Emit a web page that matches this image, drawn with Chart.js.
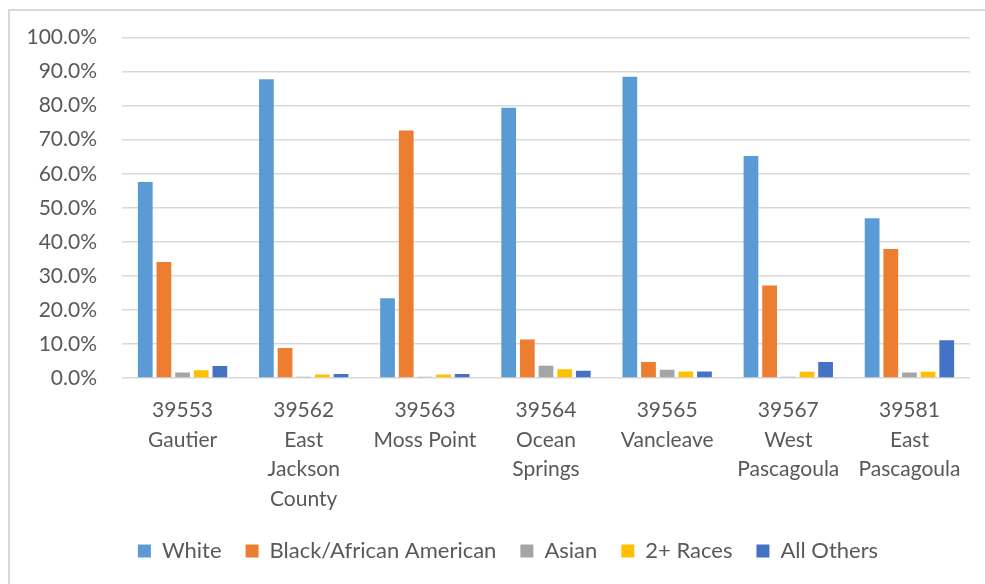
<!DOCTYPE html>
<html>
<head>
<meta charset="utf-8">
<script src="https://cdn.jsdelivr.net/npm/chart.js@4.4.0/dist/chart.umd.min.js"></script>
<style>
  html, body { margin: 0; padding: 0; background: #fff; overflow: hidden; }
  #wrap {
    position: absolute; left: 8px; top: 9px; width: 1010px; height: 584px;
    border-left: 2px solid #D9D9D9; border-top: 2px solid #D9D9D9;
  }
  #chart { position: absolute; left: 0; top: 0; }
</style>
</head>
<body>
<div id="wrap"></div>
<canvas id="chart" width="1020" height="584"></canvas>
<script>
const zipAreas = [
  ['39553', 'Gautier'],
  ['39562', 'East', 'Jackson', 'County'],
  ['39563', 'Moss Point'],
  ['39564', 'Ocean', 'Springs'],
  ['39565', 'Vancleave'],
  ['39567', 'West', 'Pascagoula'],
  ['39581', 'East', 'Pascagoula'],
];

const white      = [57.6, 87.8, 23.4, 79.4, 88.5, 65.2, 46.9];
const black      = [34.1, 8.8, 72.7, 11.3, 4.7, 27.2, 37.9];
const asian      = [1.6, 0.4, 0.4, 3.6, 2.4, 0.4, 1.6];
const twoPlus    = [2.3, 1.0, 1.0, 2.6, 1.9, 1.8, 1.8];
const allOthers  = [3.5, 1.2, 1.2, 2.1, 1.9, 4.7, 11.1];

const font = 'Lato, "Open Sans", sans-serif';
const textColor = '#595959';

const series = [
  { label: 'White', data: white, color: '#5B9BD5' },
  { label: 'Black/African American', data: black, color: '#ED7D31' },
  { label: 'Asian', data: asian, color: '#A5A5A5' },
  { label: '2+ Races', data: twoPlus, color: '#FFC000' },
  { label: 'All Others', data: allOthers, color: '#4472C4' },
];

new Chart(document.getElementById('chart').getContext('2d'), {
  type: 'bar',
  data: {
    labels: zipAreas,
    datasets: series.map(s => ({
      label: s.label,
      data: s.data,
      backgroundColor: s.color,
      borderWidth: 0,
      categoryPercentage: 0.77,
      barPercentage: 0.79,
    })),
  },
  options: {
    responsive: false,
    animation: false,
    layout: { padding: { left: 10, right: 14, top: 35, bottom: 12 } },
    plugins: {
      tooltip: { enabled: false },
      legend: {
        position: 'bottom',
        labels: {
          font: { family: font, size: 22 },
          color: textColor,
          boxWidth: 13,
          boxHeight: 13,
          padding: 24,
        },
      },
    },
    scales: {
      x: {
        grid: { display: false },
        border: { display: false },
        ticks: {
          font: { family: font, size: 21, lineHeight: 1.4 },
          color: textColor,
          padding: 10,
          maxRotation: 0,
          autoSkip: false,
        },
        afterFit: scale => { scale.height = 138; },
      },
      y: {
        min: 0,
        max: 100,
        ticks: {
          stepSize: 10,
          font: { family: font, size: 21 },
          color: textColor,
          padding: 25,
          callback: v => v.toFixed(1) + '%',
        },
        grid: { color: '#D9D9D9', lineWidth: 1.5, drawTicks: false },
        border: { display: false },
        afterFit: scale => { scale.width = 112; },
      },
      // empty margin on the right side of the plot
      yRight: {
        position: 'right',
        grid: { display: false },
        border: { display: false },
        ticks: { display: false },
        afterFit: scale => { scale.width = 36; },
      },
    },
  },
});
</script>
</body>
</html>
